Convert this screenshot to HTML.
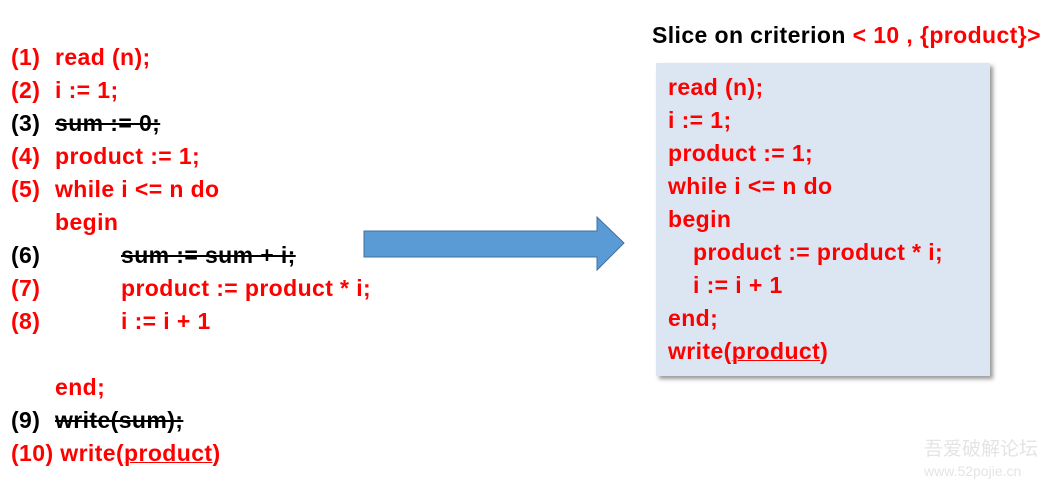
<!DOCTYPE html>
<html><head><meta charset="utf-8"><style>
body{margin:0;width:1044px;height:485px;background:#fff;position:relative;overflow:hidden;font-family:"Liberation Sans",sans-serif;font-weight:bold;font-size:23px;letter-spacing:0.4px;}
.l{position:absolute;white-space:nowrap;line-height:26px;height:26px;color:#f00;}
.k{color:#000;}
.s{text-decoration:line-through;text-decoration-thickness:2px;color:#000;}
.u{text-decoration:underline;text-decoration-thickness:1px;}
#box{position:absolute;left:656px;top:63px;width:334px;height:313px;background:#dce6f2;box-shadow:3px 3px 4px #999;}
</style></head><body>
<div class="l" style="left:11px;top:44px">(1)</div><div class="l" style="left:55px;top:44px">read (n);</div>
<div class="l" style="left:11px;top:77px">(2)</div><div class="l" style="left:55px;top:77px">i := 1;</div>
<div class="l k" style="left:11px;top:110px">(3)</div><div class="l s" style="left:55px;top:110px">sum := 0;</div>
<div class="l" style="left:11px;top:143px">(4)</div><div class="l" style="left:55px;top:143px">product := 1;</div>
<div class="l" style="left:11px;top:176px">(5)</div><div class="l" style="left:55px;top:176px">while i &lt;= n do</div>
<div class="l" style="left:55px;top:209px">begin</div>
<div class="l k" style="left:11px;top:242px">(6)</div><div class="l s" style="left:121px;top:242px">sum := sum + i;</div>
<div class="l" style="left:11px;top:275px">(7)</div><div class="l" style="left:121px;top:275px">product := product * i;</div>
<div class="l" style="left:11px;top:308px">(8)</div><div class="l" style="left:121px;top:308px">i := i + 1</div>
<div class="l" style="left:55px;top:374px">end;</div>
<div class="l k" style="left:11px;top:407px">(9)</div><div class="l s" style="left:55px;top:407px">write(sum);</div>
<div class="l" style="left:11px;top:440px">(10) write(<span class="u">product</span>)</div>

<svg style="position:absolute;left:0;top:0" width="1044" height="485">
<polygon points="364,231 597,231 597,217 624,243 597,270 597,257 364,257" fill="#5b9bd5" stroke="#41719c" stroke-width="1"/>
</svg>

<div class="l k" style="left:652px;top:22px">Slice on criterion <span style="color:#f00">&lt; 10 , {product}&gt;</span></div>
<div id="box"></div>
<div class="l" style="left:668px;top:74px">read (n);</div>
<div class="l" style="left:668px;top:107px">i := 1;</div>
<div class="l" style="left:668px;top:140px">product := 1;</div>
<div class="l" style="left:668px;top:173px">while i &lt;= n do</div>
<div class="l" style="left:668px;top:206px">begin</div>
<div class="l" style="left:693px;top:239px">product := product * i;</div>
<div class="l" style="left:693px;top:272px">i := i + 1</div>
<div class="l" style="left:668px;top:305px">end;</div>
<div class="l" style="left:668px;top:338px">write(<span class="u">product</span>)</div>

<div class="l" style="left:924px;top:437px;color:#e4e4e4;font-weight:normal;font-size:19px;letter-spacing:0;font-family:'Liberation Sans','Noto Sans CJK SC',sans-serif">吾爱破解论坛</div>
<div class="l" style="left:924px;top:458px;color:#e4e4e4;font-weight:normal;font-size:14px;letter-spacing:0">www.52pojie.cn</div>
</body></html>
